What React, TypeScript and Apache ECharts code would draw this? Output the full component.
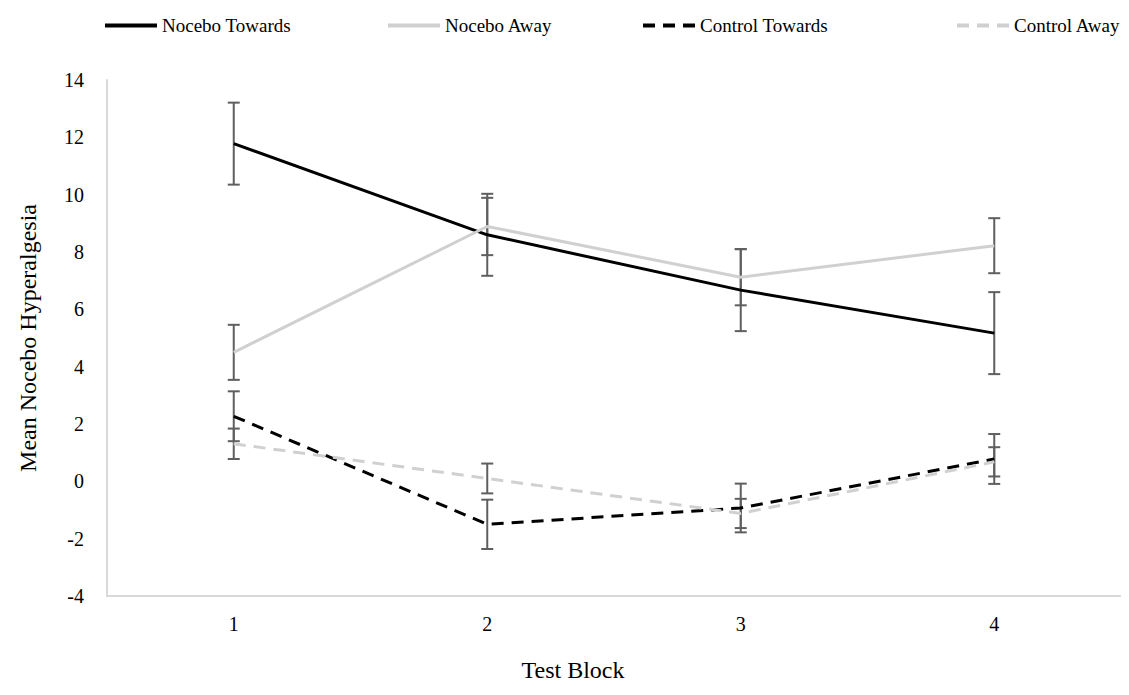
import React, { useEffect, useRef } from "react";
import * as echarts from "echarts";

const categories = ["1", "2", "3", "4"];
const yTicks = { min: -4, max: 14, interval: 2 };

const noceboTowards = [11.78, 8.6, 6.67, 5.17];
const noceboTowardsErr = [1.43, 1.43, 1.43, 1.43];
const noceboAway = [4.5, 8.89, 7.12, 8.22];
const noceboAwayErr = [0.96, 1.0, 0.98, 0.96];
const controlTowards = [2.27, -1.5, -0.93, 0.78];
const controlTowardsErr = [0.87, 0.86, 0.85, 0.87];
const controlAway = [1.31, 0.1, -1.12, 0.68];
const controlAwayErr = [0.53, 0.52, 0.51, 0.51];

const seriesNames = ["Nocebo Towards", "Nocebo Away", "Control Towards", "Control Away"];

const FONT = "'Liberation Serif', 'Times New Roman', serif";

function errData(vals: number[], errs: number[]) {
  return vals.map((v, i) => [i, v - errs[i], v + errs[i]]);
}

function errSeries(name: string, vals: number[], errs: number[]) {
  return {
    type: "custom",
    name: name + " error",
    data: errData(vals, errs),
    encode: { x: 0, y: [1, 2] },
    z: 1,
    silent: true,
    renderItem: (params: any, api: any) => {
      const x = api.value(0);
      const lo = api.coord([x, api.value(1)]);
      const hi = api.coord([x, api.value(2)]);
      const hw = 6;
      const style = { stroke: "#5f5f5f", lineWidth: 2 };
      return {
        type: "group",
        children: [
          { type: "line", shape: { x1: lo[0], y1: lo[1], x2: hi[0], y2: hi[1] }, style },
          { type: "line", shape: { x1: hi[0] - hw, y1: hi[1], x2: hi[0] + hw, y2: hi[1] }, style },
          { type: "line", shape: { x1: lo[0] - hw, y1: lo[1], x2: lo[0] + hw, y2: lo[1] }, style },
        ],
      };
    },
  };
}

function lineSeries(name: string, vals: number[], color: string, dashed: boolean) {
  return {
    type: "line",
    name,
    data: vals,
    symbol: "none",
    z: 3,
    lineStyle: { color, width: 3, type: dashed ? [12, 8] : "solid" },
    itemStyle: { color },
  };
}

function legendAt(name: string, left: number) {
  return {
    top: 3,
    left,
    itemWidth: 52,
    itemHeight: 4,
    itemGap: 5,
    itemStyle: { opacity: 0 },
    lineStyle: { width: 4 },
    textStyle: { fontFamily: FONT, fontSize: 19, color: "#000" },
    data: [name],
  };
}

export default function App() {
  const ref = useRef<HTMLDivElement>(null);
  useEffect(() => {
    if (!ref.current) return;
    const chart = echarts.init(ref.current, undefined, { renderer: "svg" });
    chart.setOption({
      animation: false,
      backgroundColor: "#ffffff",
      textStyle: { fontFamily: FONT },
      legend: [
        legendAt(seriesNames[0], 90),
        legendAt(seriesNames[1], 373),
        legendAt(seriesNames[2], 628),
        legendAt(seriesNames[3], 942),
      ],
      grid: { left: 81, top: 72, width: 1054, height: 540 },
      xAxis: {
        type: "category",
        data: categories,
        boundaryGap: true,
        axisLine: { show: true, onZero: false, lineStyle: { color: "#d9d9d9", width: 2 } },
        axisTick: { show: false },
        axisLabel: { fontFamily: FONT, fontSize: 20, color: "#000", margin: 18 },
        name: "Test Block",
        nameLocation: "middle",
        nameGap: 62,
        nameTextStyle: { fontFamily: FONT, fontSize: 24, color: "#000", padding: [0, 82, 0, 0] },
      },
      yAxis: {
        type: "value",
        min: yTicks.min,
        max: yTicks.max,
        interval: yTicks.interval,
        axisLine: { show: true, lineStyle: { color: "#d9d9d9", width: 2 } },
        axisTick: { show: false },
        splitLine: { show: false },
        axisLabel: { fontFamily: FONT, fontSize: 20, color: "#000", margin: 23 },
        name: "Mean Nocebo Hyperalgesia",
        nameLocation: "middle",
        nameGap: 67,
        nameRotate: 90,
        nameTextStyle: { fontFamily: FONT, fontSize: 24, color: "#000" },
      },
      series: [
        errSeries(seriesNames[0], noceboTowards, noceboTowardsErr),
        errSeries(seriesNames[1], noceboAway, noceboAwayErr),
        errSeries(seriesNames[2], controlTowards, controlTowardsErr),
        errSeries(seriesNames[3], controlAway, controlAwayErr),
        lineSeries(seriesNames[0], noceboTowards, "#000000", false),
        lineSeries(seriesNames[1], noceboAway, "#d0d0d0", false),
        lineSeries(seriesNames[2], controlTowards, "#000000", true),
        lineSeries(seriesNames[3], controlAway, "#d0d0d0", true),
      ],
    });
    return () => chart.dispose();
  }, []);
  return <div ref={ref} style={{ width: 1113, height: 679 }} />;
}
